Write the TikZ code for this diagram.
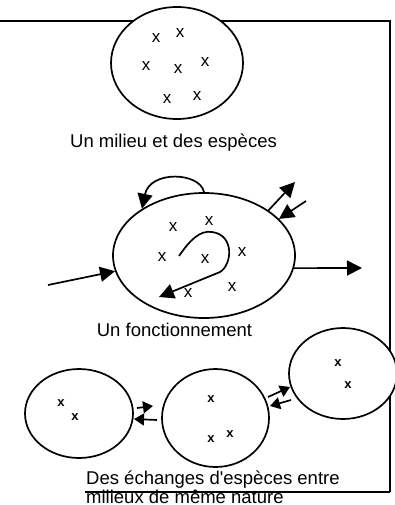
\documentclass[tikz,border=0pt]{standalone}
\usepackage{fontspec}
\setmainfont{Liberation Sans}
\usetikzlibrary{arrows.meta,shapes.geometric}
\tikzset{
  env/.style={draw,ellipse,fill=white,line width=1.7pt,inner sep=0pt},
  sp/.style={font=\fontsize{17}{17}\selectfont,inner sep=0pt},
  spsmall/.style={font=\fontsize{13}{13}\selectfont\bfseries,inner sep=0pt},
  lbl/.style={font=\fontsize{18.5}{20}\selectfont,inner sep=0pt},
  arr/.style={line width=1.7pt,-{Triangle[length=15pt,width=15pt]}},
  sarr/.style={line width=1.7pt,-{Triangle[length=10pt,width=12pt]}},
  frame/.style={line width=1.9pt}
}
\begin{document}
\begin{tikzpicture}[x=1pt,y=-1pt]
\useasboundingbox (0,0) rectangle (394,505);
% frame
\draw[frame] (0,21) -- (390,21) -- (390,492);
% top
\node[env,minimum width=132pt,minimum height=112pt] (e1) at (177,63) {};
\foreach \p/\n in {{(156,38)}/a,{(180,33)}/b,{(146,66)}/c,{(178,69)}/d,{(205,62)}/e,{(167,99)}/f,{(197,96)}/g}
  \node[sp] (x1\n) at \p {x};
\node[lbl,anchor=base] (t1) at (173.5,147) {Un milieu et des espèces};
% middle
\node[env,minimum width=182pt,minimum height=125pt] (e2) at (204,255.5) {};
\foreach \p/\n in {{(173,227)}/a,{(209,221)}/b,{(162,257)}/c,{(205,259)}/d,{(242,252)}/e,{(188,293)}/f,{(232,287)}/g}
  \node[sp] (x2\n) at \p {x};
\node[lbl,anchor=base] (t2) at (174.5,336) {Un fonctionnement};
\coordinate (inL) at (48,285);
\coordinate (outR) at (362,268);
\coordinate (outTR) at (295,182);
\coordinate (inTR) at (306,201);
\coordinate (loopS) at (179,256);
\coordinate (loopE) at (159,297);
\draw[arr] (inL) -- (e2.190);
\draw[arr] (e2.-8) -- (outR);
\draw[arr] (e2.35) -- (outTR);
\draw[arr] (inTR) -- (e2.26);
\draw[arr] (e2.north) .. controls (200,172) and (150,170) .. (e2.143);
\draw[arr] (loopS) .. controls (190,240) and (200,230) .. (212,232) .. controls (235,235) and (232,265) .. (220,272) -- (loopE);
% bottom
\node[env,minimum width=108pt,minimum height=89pt] (e3) at (79,413.5) {};
\node[env,minimum width=107pt,minimum height=98pt] (e4) at (215.5,418) {};
\node[env,minimum width=108pt,minimum height=91pt] (e5) at (343,373.5) {};
\node[spsmall] (x3a) at (61,403) {x};
\node[spsmall] (x3b) at (75,417) {x};
\node[spsmall] (x4a) at (211,399) {x};
\node[spsmall] (x4b) at (211,439) {x};
\node[spsmall] (x4c) at (230,434) {x};
\node[spsmall] (x5a) at (338,363) {x};
\node[spsmall] (x5b) at (348,385) {x};
\coordinate (a1s) at (137,408);
\coordinate (a1e) at (153,406);
\coordinate (a2s) at (157,420);
\coordinate (a2e) at (134,419);
\coordinate (b1s) at (268,397);
\coordinate (b1e) at (290,387);
\coordinate (b2s) at (291,400);
\coordinate (b2e) at (270,406);
\draw[sarr] (a1s) -- (a1e);
\draw[sarr] (a2s) -- (a2e);
\draw[sarr] (b1s) -- (b1e);
\draw[sarr] (b2s) -- (b2e);
\node[lbl,anchor=base west] (t3) at (86,484) {Des échanges d\textquotesingle espèces entre};
\node[lbl,anchor=base west] (t4) at (86,503.5) {milieux de même nature};
\draw[frame] (390,492) -- (85,492);
\end{tikzpicture}
\end{document}
